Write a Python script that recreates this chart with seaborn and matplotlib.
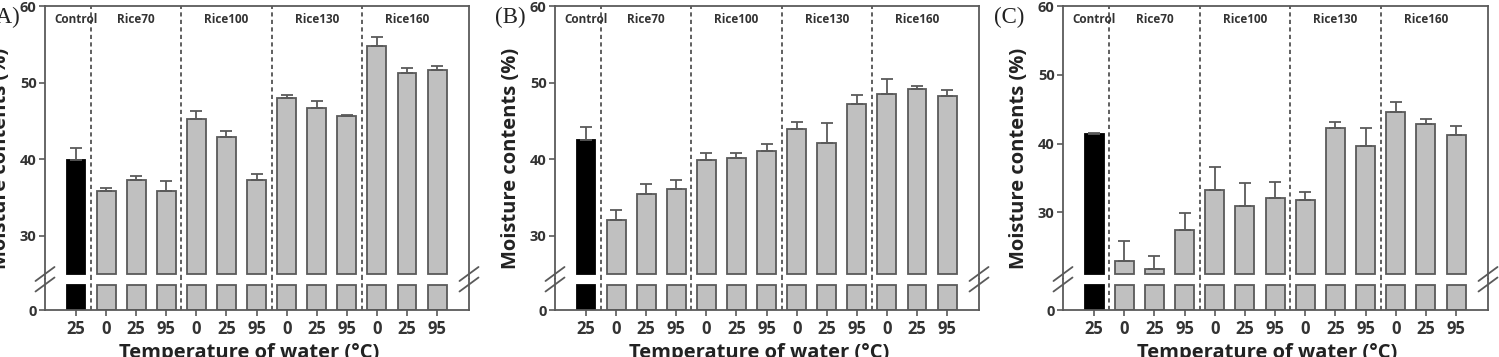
import numpy as np
import pandas as pd
import matplotlib
matplotlib.use("Agg")
import matplotlib.pyplot as plt
from matplotlib.lines import Line2D
import seaborn as sns

# ---- data ----
groups = ["Control", "Rice70", "Rice70", "Rice70", "Rice100", "Rice100", "Rice100",
          "Rice130", "Rice130", "Rice130", "Rice160", "Rice160", "Rice160"]
temps = ["25", "0", "25", "95", "0", "25", "95", "0", "25", "95", "0", "25", "95"]
group_names = ["Control", "Rice70", "Rice100", "Rice130", "Rice160"]

moist_a = [39.9, 35.8, 37.3, 35.9, 45.2, 42.85, 37.3, 48.0, 46.7, 45.6, 54.8, 51.2, 51.6]
err_a = [1.6, 0.4, 0.5, 1.2, 1.1, 0.85, 0.7, 0.4, 0.9, 0.2, 1.1, 0.7, 0.6]

moist_b = [42.5, 32.1, 35.5, 36.1, 39.9, 40.2, 41.0, 44.0, 42.1, 47.2, 48.5, 49.1, 48.2]
err_b = [1.7, 1.3, 1.3, 1.2, 0.9, 0.6, 1.0, 0.8, 2.6, 1.2, 2.0, 0.5, 0.8]

moist_c = [41.35, 22.95, 21.8, 27.5, 33.2, 30.9, 32.1, 31.8, 42.3, 39.7, 44.6, 42.85, 41.2]
err_c = [0.25, 2.85, 1.9, 2.4, 3.4, 3.35, 2.3, 1.1, 0.8, 2.6, 1.5, 0.75, 1.3]

panels = [("(A)", moist_a, err_a, 25.0), ("(B)", moist_b, err_b, 25.0), ("(C)", moist_c, err_c, 21.05)]

W, H = 1499, 357
sns.set_theme(style="white")
plt.rcParams["font.family"] = ["Open Sans", "DejaVu Sans"]

fig = plt.figure(figsize=(W / 100, H / 100), dpi=100)

edge = "#5a5a5a"
txt = "#333333"
gray = "#c0c0c0"


def px_axes(left, top, right, bottom):
    return fig.add_axes([left / W, 1 - bottom / H, (right - left) / W, (bottom - top) / H])


def fig_line(x0, y0, x1, y1):
    fig.add_artist(Line2D([x0 / W, x1 / W], [1 - y0 / H, 1 - y1 / H],
                          transform=fig.transFigure, color=edge, lw=1.3))


lefts = [45, 555, 1063]
rights = [469, 979, 1488]
tag_right = [20, 526, 1024]
top, split, bottom = 6, 279, 310
bar_bot_px, low_top_px = 274, 284.5

for (tag, vals, errs, base), left, right, tr in zip(panels, lefts, rights, tag_right):
    # pixel scale so 60 sits at the top and bar bottoms land on `base`
    scale = (bar_bot_px - top) / (60 - base)
    up_lo = 60 - (split - top) / scale
    low_hi = (bottom - split) / scale
    cap = (bottom - low_top_px) / scale

    df = pd.DataFrame({
        "key": [f"{g}-{t}-{i}" for i, (g, t) in enumerate(zip(groups, temps))],
        "kind": ["Control" if g == "Control" else "Rice" for g in groups],
        "value": vals,
    })
    df["low"] = np.minimum(df["value"], cap)

    ax_u = px_axes(left, top, right, split)
    ax_l = px_axes(left, split, right, bottom)

    pal = {"Control": "black", "Rice": gray}
    for ax, col in [(ax_u, "value"), (ax_l, "low")]:
        sns.barplot(data=df, x="key", y=col, hue="kind", palette=pal, dodge=False,
                    width=0.63, legend=False, ax=ax, edgecolor=edge, linewidth=1.3)
        for p in ax.patches:
            if p.get_facecolor()[0] < 0.1:
                p.set_edgecolor("black")
        ax.set_xlim(-1.03, 13.06)
        for xv in [0.5, 3.5, 6.5, 9.5]:
            ax.axvline(xv, color="#444444", ls=(0, (2.5, 2)), lw=1.2, zorder=0)
        for s in ax.spines.values():
            s.set_color(edge)
            s.set_linewidth(1.3)
        ax.set_xlabel("")
        ax.set_ylabel("")

    # lift upper bars so they start at the break value
    for p in ax_u.patches:
        i = int(round(p.get_x() + p.get_width() / 2))
        p.set_y(base)
        p.set_height(vals[i] - base)

    ax_u.errorbar(np.arange(len(vals)), vals, yerr=[np.zeros(len(vals)), errs],
                  fmt="none", ecolor=edge, elinewidth=1.3, capsize=4.5, capthick=1.3, zorder=3)

    ax_u.set_ylim(up_lo, 60)
    ax_u.set_yticks([30, 40, 50, 60])
    ax_u.spines["bottom"].set_visible(False)
    ax_u.tick_params(axis="x", bottom=False, labelbottom=False)
    ax_u.tick_params(axis="y", left=True, length=4, width=1.2, color=edge, pad=2,
                     labelsize=10.5, labelcolor=txt)
    for lab in ax_u.get_yticklabels():
        lab.set_fontweight("bold")

    ax_l.set_ylim(0, low_hi)
    ax_l.set_yticks([0])
    ax_l.spines["top"].set_visible(False)
    ax_l.set_xticks(range(len(temps)))
    ax_l.set_xticklabels(temps)
    ax_l.tick_params(axis="x", bottom=True, length=4, width=1.2, color=edge, pad=3,
                     labelsize=12, labelcolor=txt)
    ax_l.tick_params(axis="y", left=True, length=4, width=1.2, color=edge, pad=2,
                     labelsize=10.5, labelcolor=txt)
    for lab in ax_l.get_xticklabels() + ax_l.get_yticklabels():
        lab.set_fontweight("bold")

    # group names along the top
    centers = [0, 2, 5, 8, 11]
    for g, cx in zip(group_names, centers):
        ax_u.text(cx, 0.952, g, transform=ax_u.get_xaxis_transform(), ha="center",
                  va="center", fontsize=8.5, fontweight="bold", color=txt)

    # break marks on both side spines
    for sx in (left, right):
        for cy in (bar_bot_px, low_top_px):
            fig_line(sx - 9.5, cy + 7, sx + 9.5, cy - 7)

    # axis labels
    mid = (left + right) / 2 - 8
    fig.text(mid / W, -1 / H, "Temperature of water (°C)", ha="center", va="baseline",
             fontsize=14.5, fontweight="bold", color="#222222")
    fig.text((left - 44) / W, 1 - 158 / H, "Moisture contents (%)", rotation=90,
             ha="center", va="center", fontsize=14.5, fontweight="bold", color="#222222")
    fig.text(tr / W, 1 - 17 / H, tag, ha="right", va="center",
             fontsize=16.5, family=["Liberation Serif", "DejaVu Serif"], color="#222222")

fig.savefig("out.png", dpi=100, facecolor="white")
